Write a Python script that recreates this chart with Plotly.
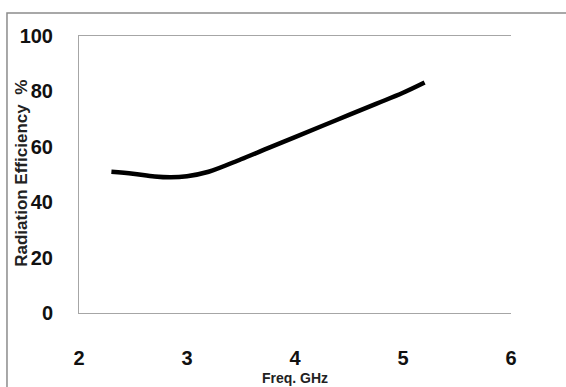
import plotly.graph_objects as go

freq_ghz = [2.3, 2.5, 2.7, 2.85, 3.0, 3.2, 3.5, 3.75, 4.0, 4.25, 4.5, 4.75, 5.0, 5.2]
efficiency_pct = [51.0, 50.3, 49.3, 49.0, 49.4, 51.0, 55.5, 59.5, 63.5, 67.5, 71.5, 75.5, 79.5, 83.2]
x_ticks = [2, 3, 4, 5, 6]
y_ticks = [0, 20, 40, 60, 80, 100]

lib = "Liberation Sans, Arial, sans-serif"
tick_font = dict(family=lib, size=20, color="#111111", weight="bold")

fig = go.Figure()
fig.add_trace(go.Scatter(
    x=freq_ghz, y=efficiency_pct, mode="lines",
    line=dict(color="black", width=4.5, shape="spline", smoothing=1.0),
    showlegend=False, hoverinfo="skip"))

fig.update_layout(
    width=566, height=387,
    margin=dict(l=79, r=55, t=36, b=74, autoexpand=False),
    paper_bgcolor="white", plot_bgcolor="white",
    xaxis=dict(range=[2, 6], tickvals=x_ticks, showgrid=False, zeroline=False,
               showline=True, linecolor="#a6a6a6", linewidth=1, mirror=True,
               ticks="", tickfont=tick_font, ticklabelstandoff=27, automargin=False),
    yaxis=dict(range=[0, 100], tickvals=y_ticks, showgrid=False, zeroline=False,
               showline=True, linecolor="#a6a6a6", linewidth=1, mirror=False,
               ticks="", tickfont=tick_font, ticklabelstandoff=21, automargin=False),
)

fig.add_annotation(text="Radiation Efficiency  %", xref="paper", yref="paper",
                   x=-0.135, y=0.505, textangle=-90, showarrow=False,
                   xanchor="center", yanchor="middle",
                   font=dict(family=lib, size=17, color="#222222", weight="bold"))
fig.add_annotation(text="Freq. GHz", xref="paper", yref="paper",
                   x=0.5, y=-0.235, showarrow=False,
                   xanchor="center", yanchor="middle",
                   font=dict(family=lib, size=14, color="#222222", weight="bold"))

# outer chart-area frame
fig.add_shape(type="rect", xref="paper", yref="paper",
              x0=-0.1667, x1=1.3, y0=-0.5, y1=1.083,
              line=dict(color="#8c8c8c", width=1.5), layer="below")

fig.write_html("out.html", config={"displayModeBar": False},
               post_script="document.body.style.margin='0';document.body.style.overflow='hidden';")
